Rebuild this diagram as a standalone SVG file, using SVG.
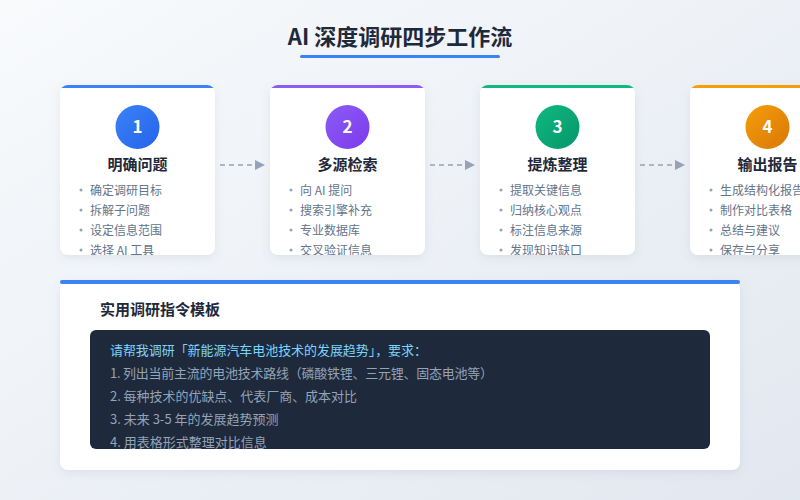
<svg xmlns="http://www.w3.org/2000/svg" width="800" height="500" viewBox="0 0 800 500">
<defs>
<linearGradient id="bg" x1="0" y1="0" x2="1" y2="1"><stop offset="0" stop-color="#f8fafc"/><stop offset="1" stop-color="#e2e8f0"/></linearGradient>
<linearGradient id="g1" x1="0" y1="0" x2="1" y2="1"><stop offset="0" stop-color="#3b82f6"/><stop offset="1" stop-color="#2563eb"/></linearGradient>
<linearGradient id="g2" x1="0" y1="0" x2="1" y2="1"><stop offset="0" stop-color="#8b5cf6"/><stop offset="1" stop-color="#7c3aed"/></linearGradient>
<linearGradient id="g3" x1="0" y1="0" x2="1" y2="1"><stop offset="0" stop-color="#10b981"/><stop offset="1" stop-color="#059669"/></linearGradient>
<linearGradient id="g4" x1="0" y1="0" x2="1" y2="1"><stop offset="0" stop-color="#f59e0b"/><stop offset="1" stop-color="#d97706"/></linearGradient>
<filter id="sh" x="-20%" y="-20%" width="140%" height="150%"><feDropShadow dx="0" dy="3" stdDeviation="5" flood-color="#64748b" flood-opacity="0.12"/></filter>
<clipPath id="c1"><rect x="60" y="85" width="155" height="170" rx="8"/></clipPath>
<clipPath id="c2"><rect x="270" y="85" width="155" height="170" rx="8"/></clipPath>
<clipPath id="c3"><rect x="480" y="85" width="155" height="170" rx="8"/></clipPath>
<clipPath id="c4"><rect x="690" y="85" width="155" height="170" rx="8"/></clipPath>
<clipPath id="cc"><rect x="90" y="330" width="620" height="119" rx="6"/></clipPath>
<marker id="ah" viewBox="0 0 10 10" refX="10" refY="5" markerWidth="10" markerHeight="10" markerUnits="userSpaceOnUse" orient="auto"><path d="M0,0 L10,5 L0,10 z" fill="#94a3b8"/></marker>
</defs>
<style>
text{font-family:"Noto Sans CJK SC","Noto Sans",sans-serif}
.title{font-size:22px;font-weight:700;fill:#1e293b}
.card{fill:#ffffff}
.num{font-size:17px;font-weight:700;fill:#ffffff}
.ct{font-size:15px;font-weight:700;fill:#1e293b}
.li{font-size:12px;fill:#64748b}
.dot{fill:#94a3b8}
.conn{stroke:#94a3b8;stroke-width:1.5;stroke-dasharray:5 4;fill:none}
.pt{font-size:15px;font-weight:700;fill:#1e293b}
.code{font-size:13px;fill:#94a3b8}
.code1{font-size:13px;fill:#7dd3fc}
</style>
<rect width="800" height="500" fill="url(#bg)"/>
<g id="header">
<text class="title" x="400" y="45" text-anchor="middle">AI 深度调研四步工作流</text>
<rect x="300" y="55" width="200" height="3" rx="1.5" fill="#3b82f6"/>
</g>
<g id="step1">
<rect class="card" x="60" y="85" width="155" height="170" rx="8" filter="url(#sh)"/>
<g clip-path="url(#c1)">
<rect x="60" y="85" width="155" height="3" fill="#3b82f6"/>
<circle cx="137.5" cy="127" r="22" fill="url(#g1)"/>
<text class="num" x="137.5" y="133" text-anchor="middle">1</text>
<text class="ct" x="137.5" y="170" text-anchor="middle">明确问题</text>
<circle class="dot" cx="81" cy="190" r="1.5"/><text class="li" x="90" y="195">确定调研目标</text>
<circle class="dot" cx="81" cy="210" r="1.5"/><text class="li" x="90" y="215">拆解子问题</text>
<circle class="dot" cx="81" cy="230" r="1.5"/><text class="li" x="90" y="235">设定信息范围</text>
<circle class="dot" cx="81" cy="250" r="1.5"/><text class="li" x="90" y="255">选择 AI 工具</text>
</g>
</g>
<g id="step2">
<rect class="card" x="270" y="85" width="155" height="170" rx="8" filter="url(#sh)"/>
<g clip-path="url(#c2)">
<rect x="270" y="85" width="155" height="3" fill="#8b5cf6"/>
<circle cx="347.5" cy="127" r="22" fill="url(#g2)"/>
<text class="num" x="347.5" y="133" text-anchor="middle">2</text>
<text class="ct" x="347.5" y="170" text-anchor="middle">多源检索</text>
<circle class="dot" cx="291" cy="190" r="1.5"/><text class="li" x="300" y="195">向 AI 提问</text>
<circle class="dot" cx="291" cy="210" r="1.5"/><text class="li" x="300" y="215">搜索引擎补充</text>
<circle class="dot" cx="291" cy="230" r="1.5"/><text class="li" x="300" y="235">专业数据库</text>
<circle class="dot" cx="291" cy="250" r="1.5"/><text class="li" x="300" y="255">交叉验证信息</text>
</g>
</g>
<g id="step3">
<rect class="card" x="480" y="85" width="155" height="170" rx="8" filter="url(#sh)"/>
<g clip-path="url(#c3)">
<rect x="480" y="85" width="155" height="3" fill="#10b981"/>
<circle cx="557.5" cy="127" r="22" fill="url(#g3)"/>
<text class="num" x="557.5" y="133" text-anchor="middle">3</text>
<text class="ct" x="557.5" y="170" text-anchor="middle">提炼整理</text>
<circle class="dot" cx="501" cy="190" r="1.5"/><text class="li" x="510" y="195">提取关键信息</text>
<circle class="dot" cx="501" cy="210" r="1.5"/><text class="li" x="510" y="215">归纳核心观点</text>
<circle class="dot" cx="501" cy="230" r="1.5"/><text class="li" x="510" y="235">标注信息来源</text>
<circle class="dot" cx="501" cy="250" r="1.5"/><text class="li" x="510" y="255">发现知识缺口</text>
</g>
</g>
<g id="step4">
<rect class="card" x="690" y="85" width="155" height="170" rx="8" filter="url(#sh)"/>
<g clip-path="url(#c4)">
<rect x="690" y="85" width="155" height="3" fill="#f59e0b"/>
<circle cx="767.5" cy="127" r="22" fill="url(#g4)"/>
<text class="num" x="767.5" y="133" text-anchor="middle">4</text>
<text class="ct" x="767.5" y="170" text-anchor="middle">输出报告</text>
<circle class="dot" cx="711" cy="190" r="1.5"/><text class="li" x="720" y="195">生成结构化报告</text>
<circle class="dot" cx="711" cy="210" r="1.5"/><text class="li" x="720" y="215">制作对比表格</text>
<circle class="dot" cx="711" cy="230" r="1.5"/><text class="li" x="720" y="235">总结与建议</text>
<circle class="dot" cx="711" cy="250" r="1.5"/><text class="li" x="720" y="255">保存与分享</text>
</g>
</g>
<g id="connectors">
<line class="conn" x1="220" y1="165" x2="265" y2="165" marker-end="url(#ah)"/>
<line class="conn" x1="430" y1="165" x2="475" y2="165" marker-end="url(#ah)"/>
<line class="conn" x1="640" y1="165" x2="685" y2="165" marker-end="url(#ah)"/>
</g>
<g id="template">
<rect class="card" x="60" y="281" width="680" height="189" rx="8" filter="url(#sh)"/>
<rect x="60" y="280" width="680" height="4" rx="2" fill="#3b82f6"/>
<text class="pt" x="100" y="315">实用调研指令模板</text>
<rect x="90" y="330" width="620" height="119" rx="6" fill="#1e293b"/>
<g clip-path="url(#cc)">
<text class="code1" x="110" y="355" textLength="317" lengthAdjust="spacing">请帮我调研「新能源汽车电池技术的发展趋势」，要求：</text>
<text class="code" x="110" y="378" textLength="383" lengthAdjust="spacing">1. 列出当前主流的电池技术路线（磷酸铁锂、三元锂、固态电池等）</text>
<text class="code" x="110" y="401" textLength="247" lengthAdjust="spacing">2. 每种技术的优缺点、代表厂商、成本对比</text>
<text class="code" x="110" y="424">3. 未来 3-5 年的发展趋势预测</text>
<text class="code" x="110" y="447">4. 用表格形式整理对比信息</text>
</g>
</g>
</svg>
